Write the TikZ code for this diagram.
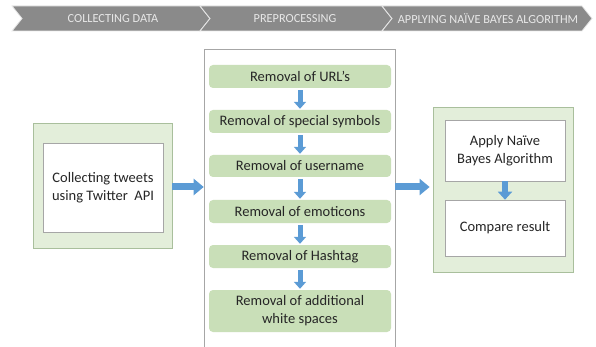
\documentclass[tikz,border=0pt]{standalone}
\usepackage{fontspec}
\setmainfont{Carlito}
\usetikzlibrary{arrows.meta}
\definecolor{bannergray}{HTML}{8A8A8A}
\definecolor{bannertext}{HTML}{E8E8E8}
\definecolor{outergreen}{HTML}{E3EEDA}
\definecolor{outerborder}{HTML}{A9BF9C}
\definecolor{stepgreen}{HTML}{C9DFB8}
\definecolor{arrowblue}{HTML}{5B9BD5}
\definecolor{txt}{HTML}{262626}
\tikzset{
  seg/.style={fill=bannergray, draw=white!80!bannergray, line width=0.8pt},
  segtext/.style={text=bannertext, font=\fontsize{12.3}{14}\selectfont},
  outerbox/.style={draw=outerborder, fill=outergreen, line width=0.8pt},
  whitebox/.style={draw=gray!70, fill=white, line width=0.6pt, text=txt, align=center, font=\fontsize{14.5}{17.5}\selectfont},
  stepbox/.style={fill=stepgreen, rounded corners=4pt, text=txt, align=center, minimum width=182pt, font=\fontsize{14.5}{18}\selectfont, inner sep=0pt},
  bigarrow/.style={draw=arrowblue, line width=7pt, -{Triangle[width=16pt,length=10pt]}},
  downarrow/.style={draw=arrowblue, line width=5pt, -{Triangle[width=12pt,length=7pt]}},
}
\begin{document}
\begin{tikzpicture}[x=1pt,y=-1pt]
\useasboundingbox (0,0) rectangle (596,347);
% banner
\draw[seg] (12,6) -- (200,6) -- (210,18.5) -- (200,31) -- (12,31) -- (22,18.5) -- cycle;
\draw[seg] (200,6) -- (382,6) -- (392,18.5) -- (382,31) -- (200,31) -- (210,18.5) -- cycle;
\draw[seg] (382,6) -- (582,6) -- (592,18.5) -- (582,31) -- (382,31) -- (392,18.5) -- cycle;
\node[segtext] (b1) at (113,18.5) {COLLECTING DATA};
\node[segtext] (b2) at (295,18.5) {PREPROCESSING};
\node[segtext] (b3) at (488,18.5) {APPLYING NAÏVE BAYES ALGORITHM};
% left box
\node[outerbox, minimum width=139pt, minimum height=125pt, inner sep=0pt] (left) at (102.5,185.5) {};
\node[whitebox, minimum width=120pt, minimum height=89pt, inner sep=0pt] (collect) at (103,187.5) {Collecting tweets\\using Twitter\ \ API};
% middle box
\node[draw=gray!70, fill=white, line width=0.6pt, minimum width=191pt, minimum height=300pt, inner sep=0pt] (mid) at (299.5,199) {};
\node[stepbox, minimum height=23pt] (s1) at (300,76.5) {Removal of URL’s};
\node[stepbox, minimum height=23pt] (s2) at (300,121.5) {Removal of special symbols};
\node[stepbox, minimum height=22pt] (s3) at (300,166) {Removal of username};
\node[stepbox, minimum height=23pt] (s4) at (300,211.5) {Removal of emoticons};
\node[stepbox, minimum height=23pt] (s5) at (300,256.5) {Removal of Hashtag};
\node[stepbox, minimum height=42pt] (s6) at (300,311) {Removal of additional\\white spaces};
\foreach \a/\b in {s1/s2,s2/s3,s3/s4,s4/s5,s5/s6}
  \draw[downarrow, shorten <=2pt, shorten >=1pt] (\a.south) -- (\b.north);
% right box
\node[outerbox, minimum width=140pt, minimum height=165pt, inner sep=0pt] (right) at (503,189.5) {};
\node[whitebox, minimum width=120pt, minimum height=61pt, inner sep=0pt] (apply) at (505,150.5) {Apply Naïve\\Bayes Algorithm};
\node[whitebox, minimum width=120pt, minimum height=56pt, inner sep=0pt] (compare) at (505,228) {Compare result};
\draw[bigarrow, line width=6pt, -{Triangle[width=14pt,length=8pt]}] (apply.south) -- (compare.north);
% connectors
\draw[bigarrow] (left.east |- 0,187) -- (mid.west |- 0,187);
\draw[bigarrow] (mid.east |- 0,187) -- ([xshift=-3pt]right.west |- 0,187);
\end{tikzpicture}
\end{document}
